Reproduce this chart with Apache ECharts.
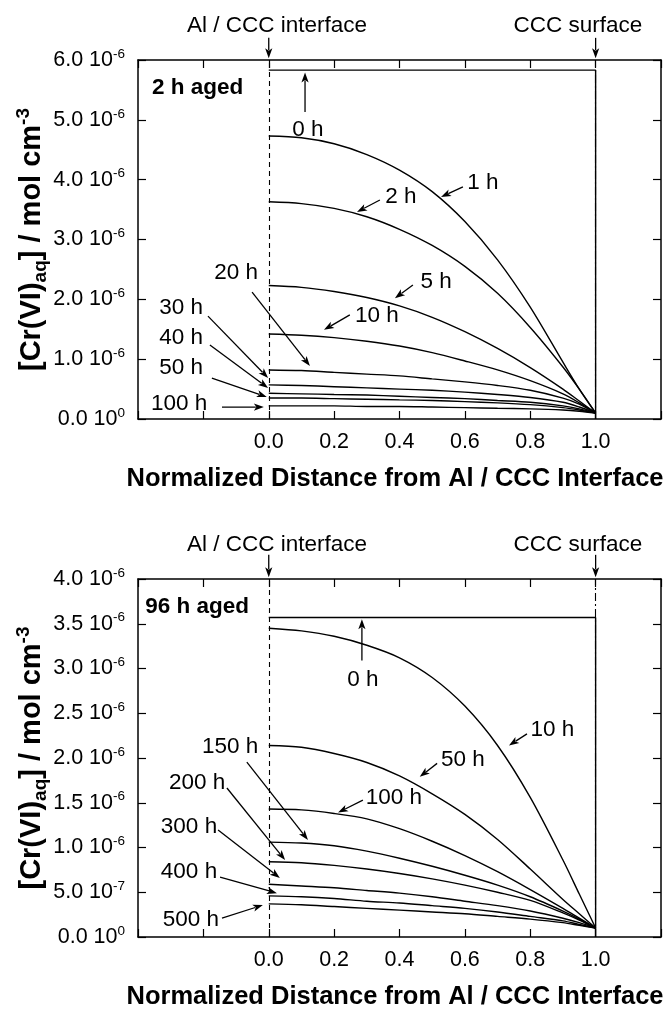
<!DOCTYPE html>
<html>
<head>
<meta charset="utf-8">
<title>Cr(VI) concentration profiles</title>
<script src="https://cdn.jsdelivr.net/npm/echarts@6/dist/echarts.min.js"></script>
<style>
  html, body { margin: 0; padding: 0; background: #fff; }
  #chart { width: 668px; height: 1011px; }
</style>
</head>
<body>
<div id="chart"></div>
<script>
// Normalized distance from the Al / CCC interface (0) to the CCC surface (1)
const distance = [0, 0.1, 0.2, 0.3, 0.4, 0.5, 0.6, 0.7, 0.8, 0.9, 0.95, 1.0];

// [Cr(VI)]aq in units of 1e-6 mol cm^-3 — coating aged 2 h
const aged2h_0h = [5.83, 5.83];
const aged2h_1h = [4.73, 4.70, 4.60, 4.42, 4.16, 3.80, 3.30, 2.66, 1.87, 0.95, 0.50, 0.10];
const aged2h_2h = [3.63, 3.60, 3.52, 3.38, 3.17, 2.90, 2.55, 2.10, 1.53, 0.87, 0.50, 0.10];
const aged2h_5h = [2.23, 2.20, 2.13, 2.03, 1.89, 1.70, 1.46, 1.18, 0.86, 0.50, 0.30, 0.10];
const aged2h_10h = [1.42, 1.40, 1.36, 1.30, 1.22, 1.11, 0.97, 0.82, 0.64, 0.42, 0.27, 0.10];
const aged2h_20h = [0.82, 0.81, 0.78, 0.75, 0.72, 0.67, 0.62, 0.56, 0.48, 0.35, 0.25, 0.10];
const aged2h_30h = [0.57, 0.56, 0.54, 0.52, 0.50, 0.48, 0.45, 0.41, 0.36, 0.28, 0.20, 0.10];
const aged2h_40h = [0.43, 0.42, 0.41, 0.40, 0.38, 0.36, 0.34, 0.31, 0.28, 0.22, 0.17, 0.10];
const aged2h_50h = [0.35, 0.35, 0.34, 0.33, 0.32, 0.31, 0.29, 0.27, 0.24, 0.19, 0.15, 0.10];
const aged2h_100h = [0.22, 0.22, 0.22, 0.21, 0.21, 0.20, 0.19, 0.18, 0.17, 0.15, 0.13, 0.10];

// [Cr(VI)]aq in units of 1e-6 mol cm^-3 — coating aged 96 h
const aged96h_0h = [3.57, 3.57];
const aged96h_10h = [3.45, 3.42, 3.36, 3.26, 3.12, 2.90, 2.58, 2.14, 1.56, 0.86, 0.48, 0.10];
const aged96h_50h = [2.14, 2.12, 2.05, 1.95, 1.80, 1.60, 1.37, 1.09, 0.76, 0.42, 0.26, 0.10];
const aged96h_100h = [1.43, 1.42, 1.38, 1.32, 1.21, 1.07, 0.91, 0.73, 0.53, 0.32, 0.21, 0.10];
const aged96h_150h = [1.06, 1.05, 1.02, 0.96, 0.88, 0.79, 0.69, 0.58, 0.45, 0.29, 0.20, 0.10];
const aged96h_200h = [0.84, 0.83, 0.80, 0.76, 0.71, 0.65, 0.58, 0.50, 0.41, 0.27, 0.19, 0.10];
const aged96h_300h = [0.59, 0.57, 0.55, 0.52, 0.49, 0.45, 0.40, 0.35, 0.29, 0.21, 0.16, 0.10];
const aged96h_400h = [0.46, 0.45, 0.43, 0.40, 0.38, 0.35, 0.32, 0.28, 0.23, 0.18, 0.14, 0.10];
const aged96h_500h = [0.37, 0.36, 0.34, 0.32, 0.30, 0.28, 0.26, 0.23, 0.20, 0.16, 0.13, 0.10];

// Tick labels
const xTickLabels = ['', '', '0.0', '0.2', '0.4', '0.6', '0.8', '1.0', ''];
const topYTicks = [['0.0', '0'], ['1.0', '-6'], ['2.0', '-6'], ['3.0', '-6'], ['4.0', '-6'], ['5.0', '-6'], ['6.0', '-6']];
const bottomYTicks = [['0.0', '0'], ['5.0', '-7'], ['1.0', '-6'], ['1.5', '-6'], ['2.0', '-6'], ['2.5', '-6'], ['3.0', '-6'], ['3.5', '-6'], ['4.0', '-6']];

const FONT = '"Liberation Sans", Arial, Helvetica, sans-serif';
const BLACK = '#000';

const chart = echarts.init(document.getElementById('chart'), null, { renderer: 'canvas' });

const pair = (ys) => ys.map((y, i) => [distance[i], y]);
const stepToSurface = (ys) => [[0, ys[0]], [1, ys[1]], [1, 0]];

function curve(data, xi, yi, smooth) {
  return {
    type: 'line',
    xAxisIndex: xi,
    yAxisIndex: yi,
    data: data,
    showSymbol: false,
    symbol: 'none',
    smooth: smooth ? 0.3 : false,
    lineStyle: { color: BLACK, width: 1.4 },
    silent: true,
    animation: false,
    z: 3
  };
}

function bottomAxis(gridIndex) {
  return {
    type: 'value', gridIndex, position: 'bottom',
    min: -0.4, max: 1.2, interval: 0.2,
    axisLine: { show: true, onZero: false, lineStyle: { color: BLACK, width: 1.5 } },
    axisTick: { show: true, inside: true, length: 8, lineStyle: { color: BLACK, width: 1.2 } },
    axisLabel: {
      show: true, margin: 12, color: BLACK, fontFamily: FONT, fontSize: 21.5,
      formatter: (v, i) => xTickLabels[i] || ''
    },
    splitLine: { show: false },
    name: 'Normalized Distance from Al / CCC Interface',
    nameLocation: 'middle', nameGap: 47, nameMoveOverlap: false,
    nameTextStyle: { color: BLACK, fontFamily: FONT, fontSize: 25.5, fontWeight: 'bold', padding: [0, 9, 0, 0] }
  };
}

function topAxis(gridIndex) {
  return {
    type: 'value', gridIndex, position: 'top',
    min: -0.4, max: 1.2, interval: 0.2,
    axisLine: { show: true, onZero: false, lineStyle: { color: BLACK, width: 1.5 } },
    axisTick: { show: true, inside: true, length: 8, lineStyle: { color: BLACK, width: 1.2 } },
    axisLabel: { show: false },
    splitLine: { show: false }
  };
}

function leftAxis(gridIndex, max, interval, ticks) {
  return {
    type: 'value', gridIndex, position: 'left',
    min: 0, max, interval,
    axisLine: { show: true, onZero: false, lineStyle: { color: BLACK, width: 1.5 } },
    axisTick: { show: true, inside: true, length: 8, lineStyle: { color: BLACK, width: 1.2 } },
    axisLabel: {
      show: true, margin: 13, color: BLACK,
      formatter: (v, i) => {
        const t = ticks[i];
        return t ? '{n|' + t[0] + ' 10}{e|' + t[1] + '}' : '';
      },
      rich: {
        n: { fontFamily: FONT, fontSize: 21.5, color: BLACK, lineHeight: 26 },
        e: { fontFamily: FONT, fontSize: 13.5, color: BLACK, lineHeight: 18, verticalAlign: 'top' }
      }
    },
    splitLine: { show: false },
    name: '{t|[Cr(VI)}{sub|aq}{t|] / mol cm}{sup|-3}',
    nameLocation: 'middle', nameRotate: 90, nameGap: 88, nameMoveOverlap: false,
    nameTextStyle: {
      rich: {
        t: { fontFamily: FONT, fontSize: 29, fontWeight: 'bold', color: BLACK, lineHeight: 36 },
        sub: { fontFamily: FONT, fontSize: 19, fontWeight: 'bold', color: BLACK, lineHeight: 21, verticalAlign: 'bottom' },
        sup: { fontFamily: FONT, fontSize: 19, fontWeight: 'bold', color: BLACK, lineHeight: 21, verticalAlign: 'top' }
      }
    }
  };
}

function rightAxis(gridIndex, max, interval) {
  return {
    type: 'value', gridIndex, position: 'right',
    min: 0, max, interval,
    axisLine: { show: true, onZero: false, lineStyle: { color: BLACK, width: 1.5 } },
    axisTick: { show: true, inside: true, length: 8, lineStyle: { color: BLACK, width: 1.2 } },
    axisLabel: { show: false },
    splitLine: { show: false }
  };
}

// Interface (dashed) and coating surface (dash-dot) markers
function boundaryLines() {
  return {
    symbol: 'none', silent: true, animation: false,
    label: { show: false },
    data: [
      { xAxis: 0, lineStyle: { color: BLACK, width: 1.1, type: [5, 4] } },
      { xAxis: 1, lineStyle: { color: BLACK, width: 1.1, type: [8, 3, 2, 3] } }
    ]
  };
}

const topSeries = [
  Object.assign(curve(stepToSurface(aged2h_0h), 0, 0, false), { markLine: boundaryLines() }),
  curve(pair(aged2h_1h), 0, 0, true),
  curve(pair(aged2h_2h), 0, 0, true),
  curve(pair(aged2h_5h), 0, 0, true),
  curve(pair(aged2h_10h), 0, 0, true),
  curve(pair(aged2h_20h), 0, 0, true),
  curve(pair(aged2h_30h), 0, 0, true),
  curve(pair(aged2h_40h), 0, 0, true),
  curve(pair(aged2h_50h), 0, 0, true),
  curve(pair(aged2h_100h), 0, 0, true)
];

const bottomSeries = [
  Object.assign(curve(stepToSurface(aged96h_0h), 2, 2, false), { markLine: boundaryLines() }),
  curve(pair(aged96h_10h), 2, 2, true),
  curve(pair(aged96h_50h), 2, 2, true),
  curve(pair(aged96h_100h), 2, 2, true),
  curve(pair(aged96h_150h), 2, 2, true),
  curve(pair(aged96h_200h), 2, 2, true),
  curve(pair(aged96h_300h), 2, 2, true),
  curve(pair(aged96h_400h), 2, 2, true),
  curve(pair(aged96h_500h), 2, 2, true)
];

chart.setOption({
  animation: false,
  backgroundColor: '#fff',
  grid: [
    { left: 138, top: 60, width: 523, height: 359, containLabel: false, outerBoundsMode: 'none' },
    { left: 138, top: 579, width: 523, height: 358, containLabel: false, outerBoundsMode: 'none' }
  ],
  xAxis: [bottomAxis(0), topAxis(0), bottomAxis(1), topAxis(1)],
  yAxis: [leftAxis(0, 6, 1, topYTicks), rightAxis(0, 6, 1), leftAxis(1, 4, 0.5, bottomYTicks), rightAxis(1, 4, 0.5)],
  series: topSeries.concat(bottomSeries)
});

// Curve labels and pointers, placed in each panel's data coordinates
const topNotes = [
  { text: 'Al / CCC interface', at: [0.025, 6.57], from: [0, 6.37], to: [0, 6.03] },
  { text: 'CCC surface', at: [0.946, 6.57], from: [1, 6.37], to: [1, 6.03] },
  { text: '2 h aged', at: [-0.357, 5.53], bold: true, align: 'left' },
  { text: '0 h', at: [0.12, 4.83], from: [0.111, 5.13], to: [0.111, 5.79] },
  { text: '1 h', at: [0.655, 3.94], from: [0.594, 3.88], to: [0.527, 3.71] },
  { text: '2 h', at: [0.404, 3.71], from: [0.34, 3.66], to: [0.27, 3.46] },
  { text: '5 h', at: [0.512, 2.29], from: [0.441, 2.24], to: [0.386, 2.02] },
  { text: '10 h', at: [0.331, 1.72], from: [0.248, 1.74], to: [0.169, 1.49] },
  { text: '20 h', at: [-0.1, 2.44], from: [-0.051, 2.12], to: [0.126, 0.886] },
  { text: '30 h', at: [-0.268, 1.855], from: [-0.186, 1.72], to: [-0.002, 0.685] },
  { text: '40 h', at: [-0.268, 1.354], from: [-0.18, 1.237], to: [-0.002, 0.518] },
  { text: '50 h', at: [-0.268, 0.852], from: [-0.174, 0.685], to: [-0.006, 0.368] },
  { text: '100 h', at: [-0.274, 0.25], from: [-0.143, 0.2], to: [-0.015, 0.2] }
];

const bottomNotes = [
  { text: 'Al / CCC interface', at: [0.025, 4.38], from: [0, 4.27], to: [0, 4.02] },
  { text: 'CCC surface', at: [0.946, 4.38], from: [1, 4.27], to: [1, 4.02] },
  { text: '96 h aged', at: [-0.378, 3.69], bold: true, align: 'left' },
  { text: '0 h', at: [0.288, 2.87], from: [0.285, 3.09], to: [0.285, 3.55] },
  { text: '10 h', at: [0.868, 2.32], from: [0.79, 2.27], to: [0.735, 2.14] },
  { text: '50 h', at: [0.594, 1.98], from: [0.515, 1.94], to: [0.462, 1.79] },
  { text: '100 h', at: [0.383, 1.56], from: [0.288, 1.53], to: [0.212, 1.39] },
  { text: '150 h', at: [-0.118, 2.12], from: [-0.067, 1.955], to: [0.12, 1.084] },
  { text: '200 h', at: [-0.219, 1.72], from: [-0.128, 1.665], to: [0.05, 0.86] },
  { text: '300 h', at: [-0.244, 1.23], from: [-0.155, 1.195], to: [0.034, 0.66] },
  { text: '400 h', at: [-0.244, 0.726], from: [-0.149, 0.67], to: [0.025, 0.49] },
  { text: '500 h', at: [-0.238, 0.19], from: [-0.143, 0.21], to: [-0.018, 0.357] }
];

function noteGraphics(notes, xAxisIndex, yAxisIndex) {
  const toPx = (p) => chart.convertToPixel({ xAxisIndex, yAxisIndex }, p);
  const out = [];
  notes.forEach((n) => {
    const p = toPx(n.at);
    out.push({
      type: 'text', x: p[0], y: p[1], z: 10, silent: true,
      style: {
        text: n.text, fill: BLACK, fontFamily: FONT,
        fontSize: 22.5, fontWeight: n.bold ? 'bold' : 'normal',
        align: n.align || 'center', verticalAlign: 'middle'
      }
    });
    if (n.from) {
      const a = toPx(n.from), b = toPx(n.to);
      const dx = b[0] - a[0], dy = b[1] - a[1];
      const len = Math.hypot(dx, dy);
      const ux = dx / len, uy = dy / len;
      const headLen = 10, headHalf = 3.6;
      const bx = b[0] - ux * headLen, by = b[1] - uy * headLen;
      out.push({
        type: 'line', z: 10, silent: true,
        shape: { x1: a[0], y1: a[1], x2: bx + ux * 2, y2: by + uy * 2 },
        style: { stroke: BLACK, lineWidth: 1.3 }
      });
      out.push({
        type: 'polygon', z: 10, silent: true,
        shape: {
          points: [
            [b[0], b[1]],
            [bx - uy * headHalf, by + ux * headHalf],
            [bx + ux * 2.5, by + uy * 2.5],
            [bx + uy * headHalf, by - ux * headHalf]
          ]
        },
        style: { fill: BLACK }
      });
    }
  });
  return out;
}

chart.setOption({
  graphic: noteGraphics(topNotes, 0, 0).concat(noteGraphics(bottomNotes, 2, 2))
});
</script>
</body>
</html>
